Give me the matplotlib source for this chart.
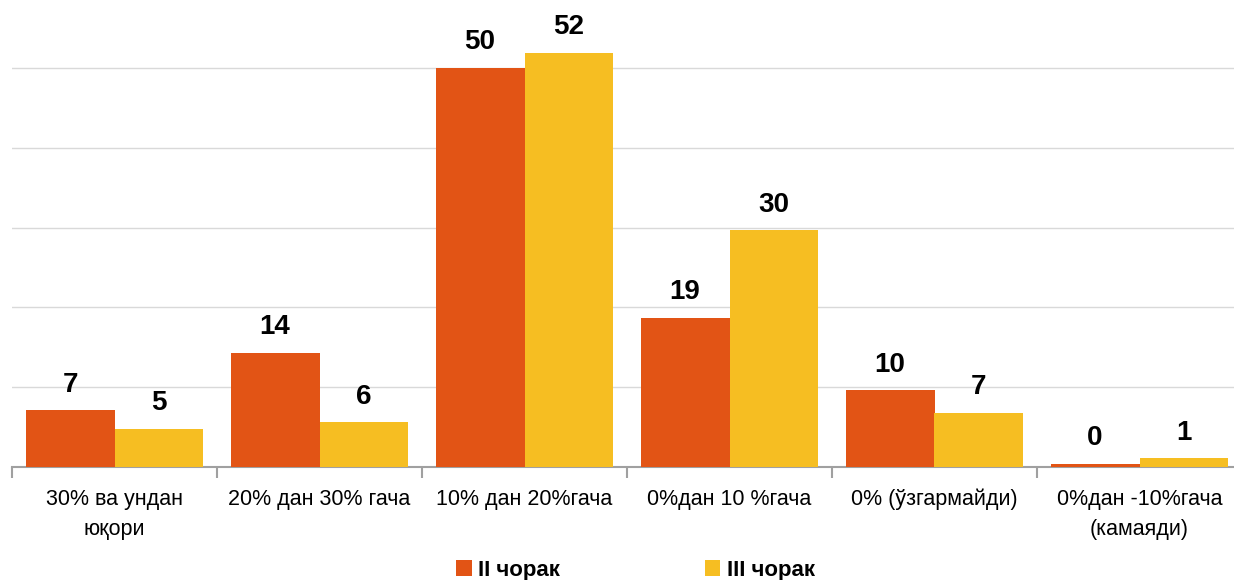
import numpy as np
import matplotlib.pyplot as plt

categories = ["30% ва ундан\nюқори", "20% дан 30% гача", "10% дан 20%гача",
              "0%дан 10 %гача", "0% (ўзгармайди)", "0%дан -10%гача\n(камаяди)"]
q2 = [7.1, 14.3, 50.0, 18.7, 9.6, 0.4]
q3 = [4.8, 5.6, 51.9, 29.7, 6.8, 1.1]
series_names = ["II чорак", "III чорак"]
colors = ["#E25415", "#F6BE22"]

fam = ['Liberation Sans Narrow', 'Liberation Sans', 'DejaVu Sans']
plt.rcParams['font.family'] = fam

fig = plt.figure(figsize=(12.34, 5.8), dpi=100)
ax = fig.add_axes([12 / 1234, 113 / 580, 1230 / 1234, 467 / 580])

x = np.arange(len(categories))
w = 0.434
for vals, off, c, name in [(q2, -w / 2, colors[0], series_names[0]),
                           (q3, w / 2, colors[1], series_names[1])]:
    bars = ax.bar(x + off, vals, w, color=c, label=name, zorder=3)
    for b, v in zip(bars, vals):
        ax.text(b.get_x() + b.get_width() / 2, v + 1.55, f"{v:.0f}",
                ha='center', va='bottom', fontsize=20, fontweight='bold')

ax.set_xlim(-0.5, len(categories) - 0.5)
ax.set_ylim(0, 58.5)
ax.set_yticks([10, 20, 30, 40, 50])
ax.yaxis.grid(True, color='#d9d9d9', linewidth=1, zorder=0)
ax.tick_params(axis='y', left=False, labelleft=False)
for s in ['top', 'right', 'left']:
    ax.spines[s].set_visible(False)
ax.spines['bottom'].set_color('#a0a0a0')
ax.spines['bottom'].set_linewidth(1.5)

ax.set_xticks(np.arange(len(categories) + 1) - 0.5, minor=False)
ax.set_xticklabels([])
ax.tick_params(axis='x', length=8, color='#a0a0a0', width=1.5)
for i, lab in enumerate(categories):
    ax.text(i, -2.7, lab, ha='center', va='top', fontsize=15.5,
            linespacing=1.6, transform=ax.transData)

handles, labels = ax.get_legend_handles_labels()
fig.legend(handles, labels, loc='center', bbox_to_anchor=(0.515, 0.017),
           ncol=2, frameon=False, handlelength=0.7, handleheight=0.7,
           handletextpad=0.3, columnspacing=6.5,
           prop={'family': fam, 'weight': 'bold', 'size': 16})

fig.savefig("out.png", dpi=100)
